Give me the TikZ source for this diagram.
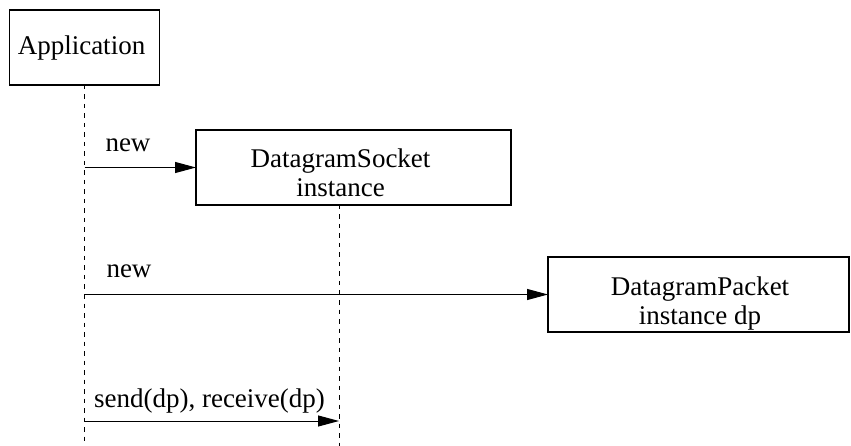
\documentclass[tikz,border=0pt]{standalone}
\usepackage{fontspec}
\setmainfont{Liberation Serif}
\usetikzlibrary{arrows.meta}
\begin{document}
\begin{tikzpicture}[x=1pt,y=-1pt,
  objbox/.style={draw,line width=1.2pt,inner sep=0pt,outer sep=0pt},
  txt/.style={font=\fontsize{27}{31}\selectfont,inner sep=0pt,anchor=base},
  lifeline/.style={line width=1pt,dash pattern=on 4.5pt off 5pt},
  msg/.style={line width=1pt,-{Triangle[length=21pt,width=11pt]}}]
\useasboundingbox (0,0) rectangle (851,446);

% lifeline positions
\coordinate (appX) at (84.5,0);
\coordinate (sockX) at (339,0);

% objects
\node[objbox,minimum width=150pt,minimum height=75pt] (app) at (84.5,47.5) {};
\node[txt] (appT) at (81.5,55) {Application};

\node[objbox,minimum width=315pt,minimum height=75pt] (sock) at (353.5,167.5) {};
\node[txt] (sockT1) at (340.5,168) {DatagramSocket};
\node[txt] (sockT2) at (340.5,197) {instance};

\node[objbox,minimum width=301pt,minimum height=75pt] (pack) at (698.5,294.5) {};
\node[txt] (packT1) at (700,295) {DatagramPacket};
\node[txt] (packT2) at (700,324) {instance dp};

% lifelines
\coordinate (appEnd) at (84.5,446);
\coordinate (sockEnd) at (339,446);
\draw[lifeline] (app.south) -- (appEnd);
\draw[lifeline] (sockX |- sock.south) -- (sockEnd);

% messages
\draw[msg] (appX |- sock.west) -- (sock.west);
\node[txt] (new1) at (128,152) {new};

\draw[msg] (appX |- pack.west) -- (pack.west);
\node[txt] (new2) at (129,278) {new};

\coordinate (sendA) at (84.5,421);
\coordinate (sendB) at (339,421);
\draw[msg] (sendA) -- (sendB);
\node[txt] (sendT) at (209.5,407) {send(dp), receive(dp)};
\end{tikzpicture}
\end{document}
